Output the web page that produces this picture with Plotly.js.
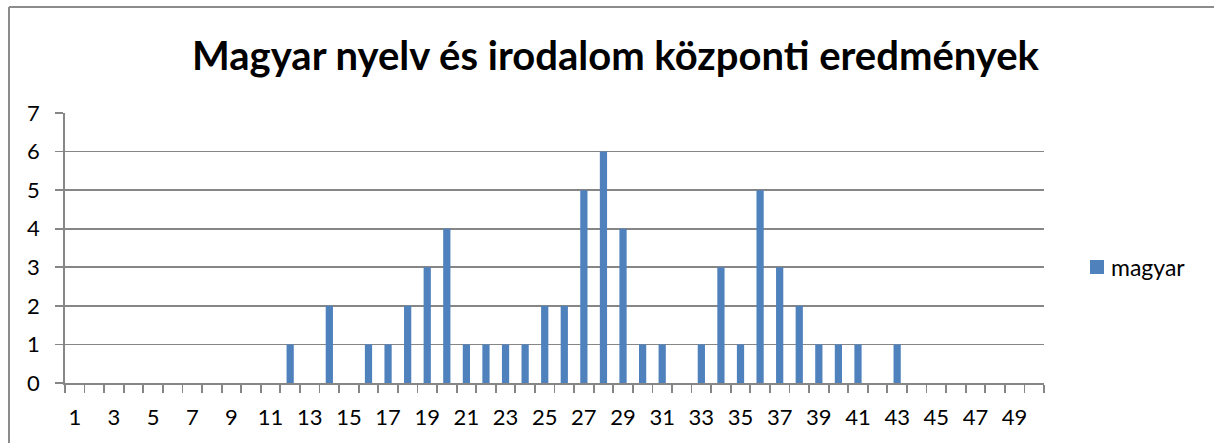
<!DOCTYPE html>
<html>
<head>
<meta charset="utf-8">
<script src="https://cdn.plot.ly/plotly-3.0.1.min.js"></script>
<style>html,body{margin:0;padding:0;background:#fff;}#chart{width:1214px;height:443px;}</style>
</head>
<body>
<div id="chart"></div>
<script>
const categories = [];
for (let i = 1; i <= 50; i++) categories.push(i);
const magyar = [0,0,0,0,0,0,0,0,0,0,0,1,0,2,0,1,1,2,3,4,1,1,1,1,2,2,5,6,4,1,1,0,1,3,1,5,3,2,1,1,1,0,1,0,0,0,0,0,0,0];
const tickLabels = categories.filter(c => c % 2 === 1);
const seriesName = 'magyar';
const titleText = 'Magyar nyelv és irodalom központi eredmények';

const FONT = 'Lato, "Open Sans", sans-serif';
const GRAY = '#868686';

const trace = {
  type: 'bar',
  x: categories,
  y: magyar,
  name: seriesName,
  marker: {color: '#4f81bd'},
  showlegend: true,
  hoverinfo: 'x+y'
};

const L = 65, R = 170, T = 113, B = 60, W = 1214, H = 443;
const pw = W - L - R, ph = H - T - B;
const bx = (9 - L) / pw, by = 1 + (T - 7) / ph;

const layout = {
  width: W, height: H,
  margin: {l: L, r: R, t: T, b: B, pad: 0},
  paper_bgcolor: '#fff', plot_bgcolor: '#fff',
  font: {family: FONT, color: '#000', size: 22},
  bargap: 0.63,
  title: {text: '<b>' + titleText + '</b>', font: {family: FONT, size: 40, color: '#000'},
          x: 0.507, xanchor: 'center', xref: 'container', y: 1 - 56/443, yanchor: 'middle', yref: 'container'},
  xaxis: {
    type: 'linear', range: [0.5, 50.5],
    tickmode: 'array', tickvals: tickLabels, ticktext: tickLabels.map(String),
    ticks: 'outside', ticklen: 8, tickcolor: 'rgba(0,0,0,0)',
    ticklabelstandoff: 6,
    showgrid: false, zeroline: false,
    showline: true, linecolor: GRAY, linewidth: 1.8,
    minor: {tick0: 0.5, dtick: 1, ticks: 'outside', ticklen: 8, tickcolor: GRAY, tickwidth: 1.8, showgrid: false},
    tickfont: {family: FONT, size: 22, color: '#000'},
    fixedrange: true
  },
  yaxis: {
    range: [0, 7], dtick: 1, tick0: 0,
    ticks: 'outside', ticklen: 8, tickcolor: GRAY, tickwidth: 1.8,
    ticklabelstandoff: 11,
    showgrid: true, gridcolor: GRAY, gridwidth: 1.8,
    zeroline: false,
    showline: true, linecolor: GRAY, linewidth: 1.8,
    tickfont: {family: FONT, size: 22, color: '#000'},
    fixedrange: true
  },
  legend: {x: (1080 - L) / pw, xanchor: 'left', y: 1 - (267 - T) / ph, yanchor: 'middle',
           font: {family: FONT, size: 23, color: '#000'}, itemwidth: 30, bgcolor: 'rgba(0,0,0,0)'},
  shapes: [
    {type: 'line', xref: 'paper', yref: 'paper', x0: bx, x1: bx, y0: by, y1: -1, line: {color: '#8c8c8c', width: 2}},
    {type: 'line', xref: 'paper', yref: 'paper', x0: bx, x1: 2, y0: by, y1: by, line: {color: '#8c8c8c', width: 2}}
  ]
};

Plotly.newPlot('chart', [trace], layout, {displayModeBar: false, staticPlot: true}).then(function (gd) {
  // Tighten legend: Excel-style square (14px) with text right beside it
  const sym = gd.querySelector('.legend .legendpoints path');
  const txt = gd.querySelector('.legend .legendtext');
  if (sym && txt) {
    sym.setAttribute('d', 'M7,7H-7V-7H7Z');
    const sr = sym.getBoundingClientRect();
    const tr = txt.getBoundingClientRect();
    const shift = (sr.right + 7) - tr.left;
    txt.setAttribute('x', parseFloat(txt.getAttribute('x') || 0) + shift);
    const lg = gd.querySelector('.legend');
    const sr2 = sym.getBoundingClientRect();
    const dx = 1090 - sr2.left, dy = 267 - (sr2.top + sr2.bottom) / 2;
    const m = (lg.getAttribute('transform') || '').match(/translate\(([-\d.]+)[ ,]+([-\d.]+)\)/);
    if (m) lg.setAttribute('transform', 'translate(' + (parseFloat(m[1]) + dx) + ',' + (parseFloat(m[2]) + dy) + ')');
  }
});
</script>
</body>
</html>
